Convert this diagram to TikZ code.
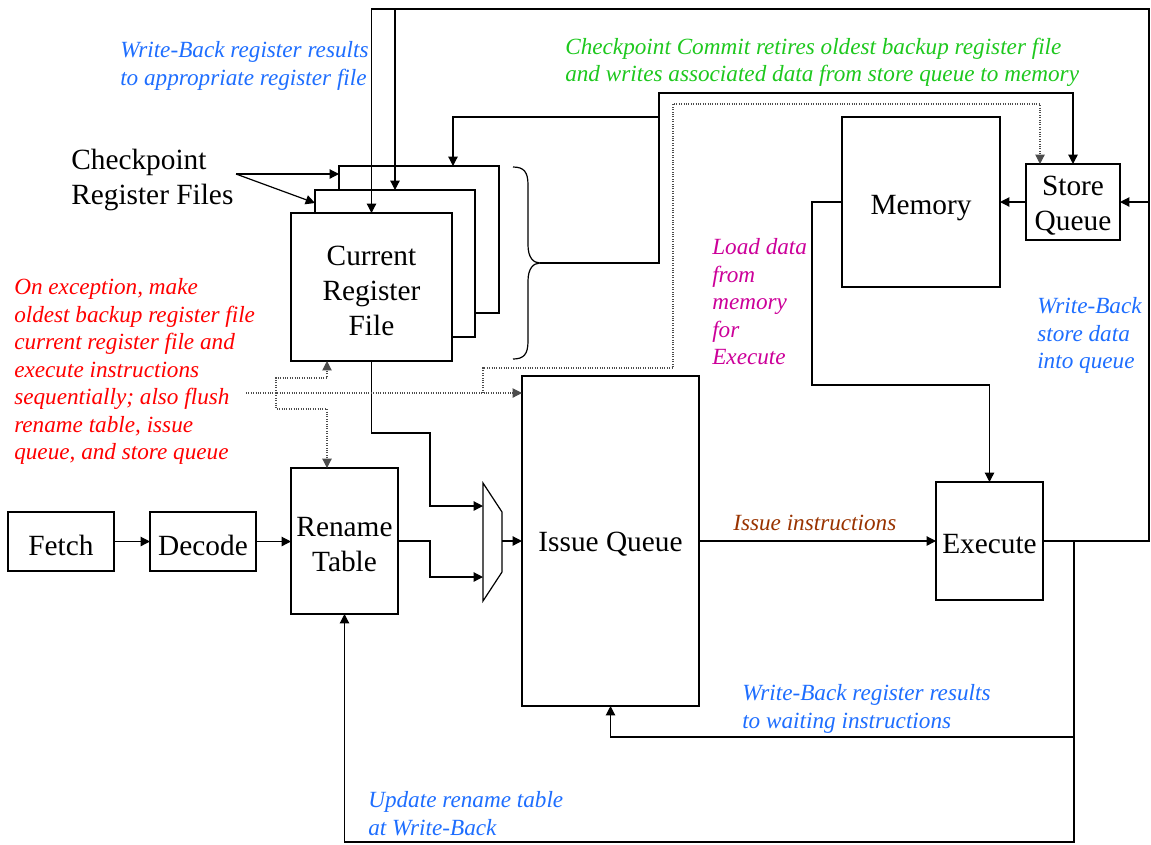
\documentclass[tikz,border=0pt]{standalone}
\usepackage{fontspec}
\setmainfont{Liberation Serif}
\usetikzlibrary{arrows.meta}
\definecolor{wbblue}{RGB}{30,110,255}
\definecolor{commitgreen}{RGB}{30,200,30}
\definecolor{loadmag}{RGB}{204,0,153}
\definecolor{issuebrown}{RGB}{153,51,0}
\definecolor{excred}{RGB}{255,0,0}
\begin{document}
\begin{tikzpicture}[x=0.75pt,y=-0.75pt,
  box/.style={draw, line width=0.9pt, fill=white, inner sep=0pt, outer sep=0pt},
  boxlbl/.style={inner sep=0pt, align=center, font=\fontsize{22}{26.25}\selectfont, yshift=-2.6pt},
  txt/.style={label={[boxlbl]center:#1}},
  cell/.style 2 args={minimum width=#1*0.75pt, minimum height=#2*0.75pt},
  arr/.style={line width=0.9pt, -{Triangle[length=7pt,width=7pt]}},
  wire/.style={line width=0.9pt},
  dotline/.style={line width=0.8pt, densely dotted, black!70},
  dotarr/.style={dotline, -{Triangle[length=7pt,width=7pt]}},
  note/.style={anchor=north west, inner sep=0pt, align=left,
    font=\fontsize{17.4}{20.6}\selectfont\itshape}]
\useasboundingbox (0,0) rectangle (1151,844);

% checkpoint register files, oldest at the back
\node[box, cell={160}{147}] (rf3) at (419,239.5) {};
\node[box, cell={160}{147}] (rf2) at (395,263.5) {};
\node[box, cell={161}{148}, txt={Current\\Register\\File}] (crf) at (371.5,287) {};

% pipeline blocks
\node[box, cell={106}{59}, txt=Fetch] (fetch) at (61,541.5) {};
\node[box, cell={106}{59}, txt=Decode] (decode) at (203,541.5) {};
\node[box, cell={107}{146}, txt={Rename\\Table}] (rename) at (344.5,541) {};
\node[box, cell={177}{330}, txt={Issue Queue}] (iq) at (610.5,541) {};
\node[box, cell={107}{118}, txt=Execute] (ex) at (989.5,541) {};
\node[box, cell={158}{170}, label={[boxlbl, yshift=-1.9pt]center:Memory}] (mem) at (921,202) {};
\node[box, cell={94}{76}, txt={Store\\Queue}] (sq) at (1073,202) {};

% operand multiplexer
\coordinate (mi1) at (483,506);
\coordinate (mi2) at (483,577);
\coordinate (mo) at (502,541);
\draw[wire] (483,483) -- (502,512) -- (502,572) -- (483,601) -- cycle;

% brace grouping the register files
\coordinate (btip) at (540,263);
\draw[wire] (513,167) .. controls (524,167) and (528,172) .. (528,185) -- (528,245)
  .. controls (528,257) and (533,263) .. (btip)
  .. controls (533,263) and (528,269) .. (528,281) -- (528,341)
  .. controls (528,354) and (524,359) .. (513,359);

% front end
\draw[arr] (fetch.east) -- (fetch.east -| decode.west);
\draw[arr] (decode.east) -- (decode.east -| rename.west);
\coordinate (k1) at (430,506);
\coordinate (k2) at (430,577);
\draw[arr] (crf.south) -- ++(0,72) -| (k1) -- (mi1);
\draw[arr] (rename.east) -| (k2) -- (mi2);
\draw[arr] (mo) -- (mo -| iq.west);

% issue
\draw[arr] (iq.east) -- (ex.west);
\node[note, text=issuebrown] (issuelbl) at (733,515) {Issue instructions};

% write-back paths
\coordinate (tr) at (1149,9);
\coordinate (tl) at (371.5,9);
\draw[arr] (ex.east) -| (tr) -- (tl) -- (crf.north);
\draw[arr] (rf2.north |- tl) -- (rf2.north);
\draw[arr] (sq.east -| tr) -- (sq.east);
\coordinate (wb) at (1074,541);
\coordinate (bl) at (344.5,842);
\draw[arr] (wb) |- (bl) -- (rename.south);
\coordinate (wb2) at (1074,737);
\draw[arr] (wb2) -| (iq.south);

% memory
\coordinate (m1) at (812,385);
\draw[arr] (mem.west) -| (m1) -| (ex.north);
\draw[arr] (sq.west) -- (mem.east);

% checkpoint commit
\coordinate (c1) at (659,93);
\draw[arr] (btip) -| (c1) -| (sq.north);
\coordinate (c2) at (659,117);
\coordinate (c3) at (453,117);
\draw[arr] (c2) -- (c3) -- (c3 |- rf3.north);

% checkpoint label
\node[anchor=north west, inner sep=0pt, align=left,
  font=\fontsize{22}{26.25}\selectfont] (cklbl) at (71,149) {Checkpoint\\Register Files};
\coordinate (ck) at (236,174);
\path (rf2.north west) ++(0,13) coordinate (ck2);
\draw[arr] (ck) -- (ck -| rf3.west);
\draw[arr] (ck) -- (ck2);

% exception recovery (dotted)
\coordinate (d0) at (246,393);
\coordinate (d1) at (276,393);
\coordinate (dA) at (327,378);
\coordinate (dB) at (327,409);
\draw[dotarr] (d0) -- (d0 -| iq.west);
\draw[dotarr] (d1) |- (dA) -- (dA |- crf.south);
\draw[dotarr] (d1) |- (dB) -- (dB |- rename.north);
\coordinate (e0) at (483,393);
\coordinate (e1) at (673,368);
\coordinate (e2) at (1040,104);
\draw[dotarr] (e0) |- (e1) |- (e2) -- (e2 |- sq.north);

% annotations
\node[note, text=wbblue] (wbrf) at (120,41.5) {Write-Back register results\\to appropriate register file};
\node[note, text=commitgreen] (commit) at (565,37.5) {Checkpoint Commit retires oldest backup register file\\and writes associated data from store queue to memory};
\node[note, text=excred] (exc) at (14,278.5) {On exception, make\\oldest backup register file\\current register file and\\execute instructions\\sequentially; also flush\\rename table, issue\\queue, and store queue};
\node[note, text=loadmag] (load) at (712,238.5) {Load data\\from\\memory\\for\\Execute};
\node[note, text=wbblue] (wbsq) at (1037,297.5) {Write-Back\\store data\\into queue};
\node[note, text=wbblue] (wbiq) at (742,684.5) {Write-Back register results\\to waiting instructions};
\node[note, text=wbblue] (wbrn) at (368,791.5) {Update rename table\\at Write-Back};
\end{tikzpicture}
\end{document}
